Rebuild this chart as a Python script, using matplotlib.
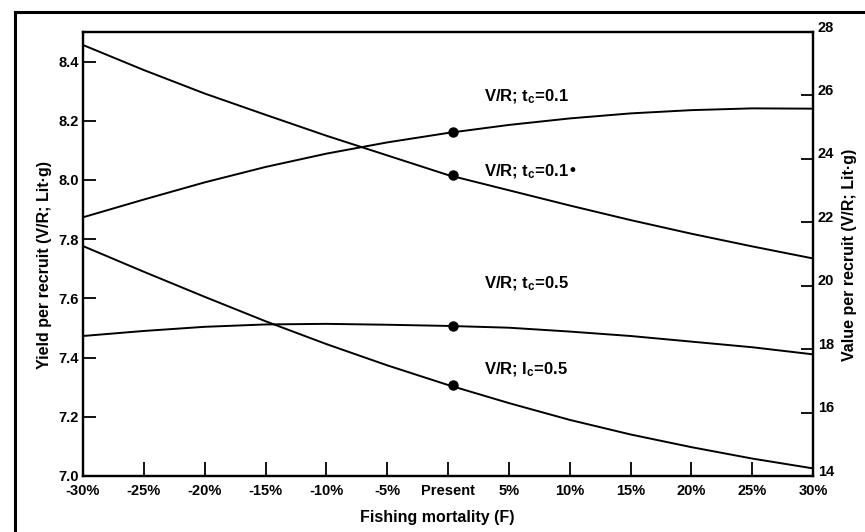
import matplotlib
matplotlib.use('Agg')
import matplotlib.pyplot as plt
from matplotlib import font_manager as fmgr
from matplotlib.lines import Line2D
from matplotlib.transforms import ScaledTranslation

# ---------------- data ----------------
fm_pct = [-30, -25, -20, -15, -10, -5, 0, 5, 10, 15, 20, 25, 30]
x_tick_labels = ['-30%', '-25%', '-20%', '-15%', '-10%', '-5%', 'Present',
                 '5%', '10%', '15%', '20%', '25%', '30%']

# left axis (yield per recruit)
yield_tc01 = [7.874, 7.934, 7.992, 8.044, 8.089, 8.127, 8.159,
              8.186, 8.208, 8.225, 8.236, 8.242, 8.241]
yield_tc05 = [7.473, 7.490, 7.504, 7.512, 7.514, 7.511, 7.507,
              7.501, 7.488, 7.473, 7.454, 7.435, 7.411]
# right axis (value per recruit)
value_tc01 = [27.59, 26.80, 26.06, 25.39, 24.73, 24.11, 23.49,
              23.01, 22.53, 22.07, 21.64, 21.24, 20.86]
value_tc05 = [21.25, 20.44, 19.65, 18.88, 18.16, 17.49, 16.87,
              16.30, 15.77, 15.31, 14.91, 14.55, 14.24]

# present-state markers
present_x = 0.4
present_yield = [8.162, 7.507]
present_value = [23.49, 16.87]

left_ticks = [7.0, 7.2, 7.4, 7.6, 7.8, 8.0, 8.2, 8.4]
right_ticks = [14, 16, 18, 20, 22, 24, 26, 28]

curve_labels = [r'V/R; $\mathregular{t_c}$=0.1', 'V/R; $\\mathregular{t_c}$=0.1\u2022',
                r'V/R; $\mathregular{t_c}$=0.5', r'V/R; $\mathregular{I_c}$=0.5']
label_pos = [(3.0, 8.281), (3.0, 8.028), (3.0, 7.651), (3.0, 7.358)]

# ---------------- font choice ----------------
avail = {f.name for f in fmgr.fontManager.ttflist}
family = 'DejaVu Sans'
for cand in ['Liberation Sans Narrow', 'Liberation Sans', 'Arial', 'DejaVu Sans']:
    if cand in avail:
        family = cand
        break
plt.rcParams['font.family'] = [family, 'DejaVu Sans']
plt.rcParams['font.weight'] = 'bold'

fig = plt.figure(figsize=(8.65, 5.32), dpi=100)
W, H = 865, 532
ax = fig.add_axes([83 / W, 1 - 476 / H, (813 - 83) / W, (476 - 32) / H])
ax2 = ax.twinx()

lw = 1.4
ax.plot(fm_pct, yield_tc01, color='black', lw=lw)
ax.plot(fm_pct, yield_tc05, color='black', lw=lw)
ax2.plot(fm_pct, value_tc01, color='black', lw=lw)
ax2.plot(fm_pct, value_tc05, color='black', lw=lw)

ax.plot([present_x] * 2, present_yield, 'o', color='black', ms=6.5)
ax2.plot([present_x] * 2, present_value, 'o', color='black', ms=6.5)

ax.set_xlim(-30, 30)
ax.set_ylim(7.0, 8.5)
ax2.set_ylim(14, 28)

ax.set_xticks(fm_pct)
ax.set_xticklabels(x_tick_labels)
ax.set_yticks(left_ticks)
ax.set_yticklabels([f'{v:.1f}' for v in left_ticks])
ax2.set_yticks(right_ticks)
ax2.set_yticklabels([str(v) for v in right_ticks])

ax.tick_params(axis='x', direction='in', length=10, width=1.3, pad=6, labelsize=10.5)
ax.tick_params(axis='y', direction='in', length=9, width=1.3, pad=3, labelsize=10.5)
ax2.tick_params(axis='y', direction='in', length=9, width=1.3, pad=3.5, labelsize=10.5)

# right labels sit slightly above their ticks
off = ScaledTranslation(0, 6 / 100, fig.dpi_scale_trans)
for lab in ax2.get_yticklabels():
    lab.set_transform(lab.get_transform() + off)

for a in (ax, ax2):
    for s in a.spines.values():
        s.set_linewidth(1.6)

ax.set_xlabel('Fishing mortality (F)', fontsize=11.5, fontweight='bold')
ax.set_ylabel('Yield per recruit (V/R; Lit\u00b7g)', fontsize=11.5, fontweight='bold')
ax2.set_ylabel('Value per recruit (V/R; Lit\u00b7g)', fontsize=11.5, fontweight='bold')
ax.xaxis.set_label_coords(0.485, -0.077)
ax.yaxis.set_label_coords(-0.043, 0.475)
ax2.yaxis.set_label_coords(1.040, 0.498)

for txt, (tx, ty) in zip(curve_labels, label_pos):
    ax.text(tx, ty, txt, fontsize=12, fontweight='bold', va='center', ha='left')

# outer frame (top and left only)
fig.add_artist(Line2D([15 / W, 1.0], [1 - 12 / H, 1 - 12 / H],
                      transform=fig.transFigure, color='black', lw=2.2))
fig.add_artist(Line2D([15 / W, 15 / W], [0.0, 1 - 12 / H],
                      transform=fig.transFigure, color='black', lw=2.2))

fig.savefig('out.png', dpi=100)
